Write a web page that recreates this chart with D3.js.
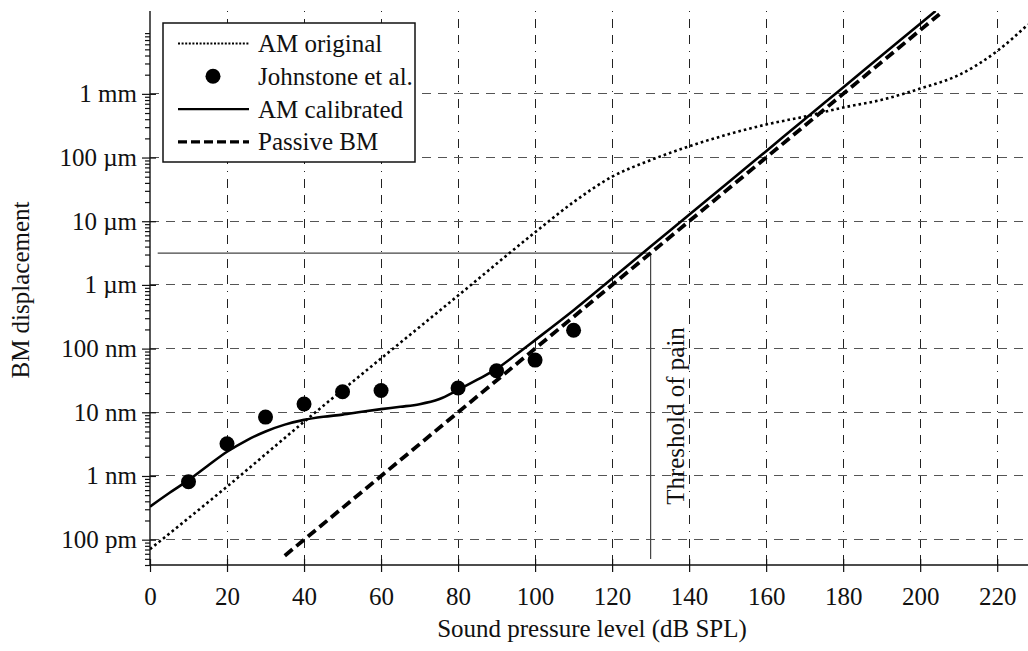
<!DOCTYPE html>
<html>
<head>
<meta charset="utf-8">
<script src="https://cdn.jsdelivr.net/npm/d3@7"></script>
<style>
  body { margin: 0; background: #fff; }
  svg { display: block; }
  text { font-family: "Liberation Serif", "Times New Roman", serif; fill: #111; }
</style>
</head>
<body>
<svg id="chart" width="1028" height="651"></svg>
<script>
// Levels in dB SPL, displacements in metres.
const amOriginalLevels = [0, 20, 40, 60, 80, 100, 110, 120, 130, 140, 150, 160, 170, 180, 190, 200, 210, 220, 228];
const amOriginalDisp   = [7.1e-11, 6.8e-10, 7.1e-9, 7.0e-8, 6.8e-7, 6.7e-6, 2.0e-5, 5.0e-5, 9.1e-5, 1.5e-4,
                          2.3e-4, 3.3e-4, 4.4e-4, 6.1e-4, 8.05e-4, 1.21e-3, 1.97e-3, 4.7e-3, 1.23e-2];

const amCalibratedLevels = [0, 5, 10, 15, 20, 25, 30, 35, 40, 45, 50, 55, 60, 65, 70, 75, 80, 85, 90, 95, 100,
                            110, 120, 130, 140, 150, 160, 170, 180, 190, 200, 204];
const amCalibratedDisp   = [0.33e-9, 0.54e-9, 0.86e-9, 1.45e-9, 2.4e-9, 3.6e-9, 5.0e-9, 6.4e-9, 7.6e-9, 8.5e-9,
                            9.2e-9, 10.2e-9, 11.2e-9, 12.2e-9, 13.4e-9, 16e-9, 22.5e-9, 32.5e-9, 48e-9, 80e-9, 136e-9,
                            4.0e-7, 1.26e-6, 4.0e-6, 1.26e-5, 4.0e-5, 1.26e-4, 4.0e-4, 1.26e-3, 4.0e-3, 1.26e-2, 2.0e-2];

const johnstoneLevels = [10, 20, 30, 40, 50, 60, 80, 90, 100, 110];
const johnstoneDisp   = [0.81e-9, 3.2e-9, 8.4e-9, 13.5e-9, 21e-9, 22e-9, 24e-9, 45e-9, 66e-9, 194e-9];

const passiveLevels = [35, 80, 130, 180, 205];
const passiveDisp   = [5.6e-11, 1e-8, 3.16e-6, 1e-3, 1.78e-2];

// Threshold of pain marker
const painLevel = 130;
const painDisp = 3.16e-6;
const painLineStart = 2;

const xTicks = [0, 20, 40, 60, 80, 100, 120, 140, 160, 180, 200, 220];
const yTicks = [1e-10, 1e-9, 1e-8, 1e-7, 1e-6, 1e-5, 1e-4, 1e-3];
const yTickLabels = ["100 pm", "1 nm", "10 nm", "100 nm", "1 µm", "10 µm", "100 µm", "1 mm"];

const legendLabels = ["AM original", "Johnstone et al.", "AM calibrated", "Passive BM"];

const xTitle = "Sound pressure level (dB SPL)";
const yTitle = "BM displacement";
const painLabel = "Threshold of pain";

// ---- layout ----
const plotL = 150, plotR = 1028, plotT = 11, plotB = 565;
const fontSize = 25;

const svg = d3.select("#chart");

const x = d3.scaleLinear().domain([0, 228]).range([plotL, plotR]);
const y = d3.scaleLog().domain([4e-11, 2e-2]).range([plotB, plotT]);

// minor log ticks (2..9 per decade), up to 9 mm
const yMinor = [];
for (let k = -11; k <= -3; k++) {
  for (let m = 2; m <= 9; m++) {
    const v = m * Math.pow(10, k);
    if (v >= 4e-11 && v <= 9.5e-3) yMinor.push(v);
  }
}

svg.append("defs").append("clipPath").attr("id", "plotClip")
  .append("rect").attr("x", plotL).attr("y", plotT).attr("width", plotR - plotL).attr("height", plotB - plotT);

// ---- grid ----
const grid = svg.append("g");
grid.selectAll("line.v").data(xTicks.filter(d => d > 0)).join("line")
  .attr("x1", d => x(d)).attr("x2", d => x(d))
  .attr("y1", plotT).attr("y2", plotB)
  .attr("stroke", "#222").attr("stroke-width", 1)
  .attr("stroke-dasharray", "1 7 9 7 9 7")
  .attr("shape-rendering", "crispEdges");
grid.selectAll("line.h").data(yTicks).join("line")
  .attr("x1", plotL).attr("x2", plotR)
  .attr("y1", d => y(d)).attr("y2", d => y(d))
  .attr("stroke", "#555").attr("stroke-width", 1)
  .attr("stroke-dasharray", "9 7")
  .attr("shape-rendering", "crispEdges");

// ---- threshold of pain ----
svg.append("line")
  .attr("x1", x(painLineStart)).attr("x2", x(painLevel))
  .attr("y1", y(painDisp)).attr("y2", y(painDisp))
  .attr("stroke", "#444").attr("stroke-width", 1.2);
svg.append("line")
  .attr("x1", x(painLevel)).attr("x2", x(painLevel))
  .attr("y1", y(painDisp)).attr("y2", plotB - 6)
  .attr("stroke", "#444").attr("stroke-width", 1.2);
svg.append("text")
  .attr("transform", `translate(${x(painLevel) + 33},416) rotate(-90)`)
  .attr("text-anchor", "middle")
  .attr("font-size", fontSize)
  .text(painLabel);

// ---- axes ----
const yAxis = d3.axisLeft(y).tickValues(yTicks)
  .tickFormat((d, i) => yTickLabels[i])
  .tickSizeInner(8).tickSizeOuter(0).tickPadding(5);
const yAxisG = svg.append("g").attr("transform", `translate(${plotL},0)`).call(yAxis);
yAxisG.selectAll(".tick line").attr("x1", 6);

const yMinorAxis = d3.axisLeft(y).tickValues(yMinor).tickFormat("").tickSizeInner(5).tickSizeOuter(0);
const yMinorG = svg.append("g").attr("transform", `translate(${plotL},0)`).call(yMinorAxis);
yMinorG.select(".domain").remove();

const xAxis = d3.axisBottom(x).tickValues(xTicks).tickSizeInner(7).tickSizeOuter(0).tickPadding(15);
const xAxisG = svg.append("g").attr("transform", `translate(0,${plotB})`).call(xAxis);
xAxisG.selectAll(".tick line").attr("y1", -6);

[yAxisG, yMinorG, xAxisG].forEach(g => {
  g.selectAll("line").attr("stroke", "#111").attr("stroke-width", 1.2);
  g.selectAll(".domain").attr("stroke", "#111").attr("stroke-width", 1.4);
  g.selectAll("text").attr("font-size", fontSize)
    .attr("font-family", "'Liberation Serif', 'Times New Roman', serif").attr("fill", "#111");
});
yAxisG.select(".domain").attr("d", `M0,${plotT}V${plotB}`);
xAxisG.select(".domain").attr("d", `M${plotL},0H${plotR}`);

svg.append("text")
  .attr("x", (plotL + plotR) / 2 + 3).attr("y", 637)
  .attr("text-anchor", "middle").attr("font-size", fontSize)
  .text(xTitle);
svg.append("text")
  .attr("transform", `translate(29,290) rotate(-90)`)
  .attr("text-anchor", "middle").attr("font-size", fontSize)
  .text(yTitle);

// ---- series ----
const plot = svg.append("g").attr("clip-path", "url(#plotClip)");
const lineGen = d3.line().x(d => x(d[0])).y(d => y(d[1])).curve(d3.curveMonotoneX);
const zip = (a, b) => a.map((v, i) => [v, b[i]]);

plot.append("path").datum(zip(amOriginalLevels, amOriginalDisp))
  .attr("d", lineGen).attr("fill", "none").attr("stroke", "#000")
  .attr("stroke-width", 2.6).attr("stroke-dasharray", "2.6 3");

plot.append("path").datum(zip(passiveLevels, passiveDisp))
  .attr("d", d3.line().x(d => x(d[0])).y(d => y(d[1])))
  .attr("fill", "none").attr("stroke", "#000")
  .attr("stroke-width", 3.8).attr("stroke-dasharray", "10 5");

plot.append("path").datum(zip(amCalibratedLevels, amCalibratedDisp))
  .attr("d", lineGen).attr("fill", "none").attr("stroke", "#000")
  .attr("stroke-width", 2.6);

plot.selectAll("circle.pt").data(zip(johnstoneLevels, johnstoneDisp)).join("circle")
  .attr("cx", d => x(d[0])).attr("cy", d => y(d[1])).attr("r", 7.5).attr("fill", "#000");

// ---- legend ----
const lg = svg.append("g").attr("transform", "translate(163,23)");
lg.append("rect").attr("width", 252).attr("height", 139)
  .attr("fill", "#fff").attr("stroke", "#111").attr("stroke-width", 1.5);
const rowY = i => 20.5 + i * 32.8;
const rows = lg.selectAll("g.row").data(legendLabels).join("g")
  .attr("transform", (d, i) => `translate(0,${rowY(i)})`);
rows.append("text").attr("x", 95).attr("y", 8.5).attr("font-size", fontSize).text(d => d);
rows.each(function (d, i) {
  const g = d3.select(this);
  if (i === 1) {
    g.append("circle").attr("cx", 50).attr("cy", 0).attr("r", 7.5).attr("fill", "#000");
    return;
  }
  const ln = g.append("line").attr("x1", 15).attr("x2", 86).attr("y1", 0).attr("y2", 0).attr("stroke", "#000");
  if (i === 0) ln.attr("stroke-width", 2).attr("stroke-dasharray", "2 1.6");
  if (i === 2) ln.attr("stroke-width", 2.4);
  if (i === 3) ln.attr("stroke-width", 3.4).attr("stroke-dasharray", "9 4");
});
</script>
</body>
</html>
